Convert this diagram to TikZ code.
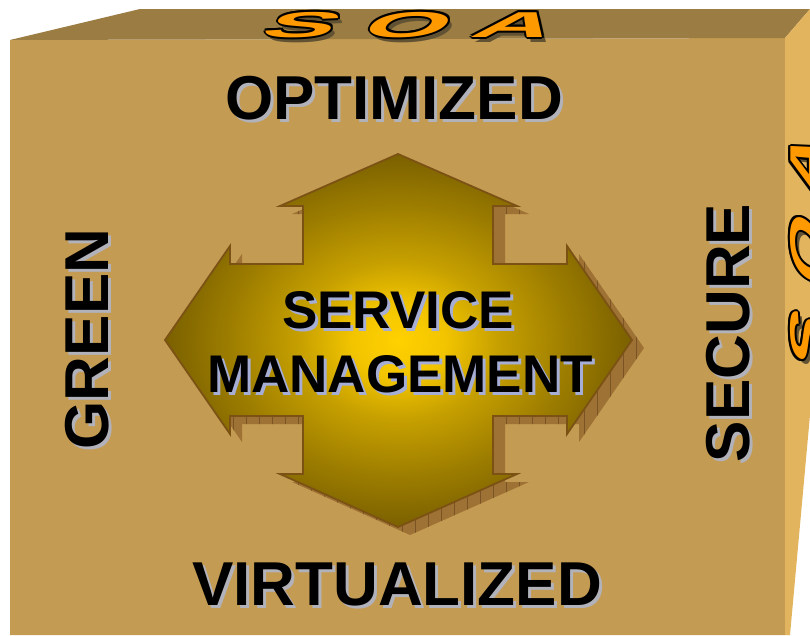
\documentclass[tikz,border=0pt]{standalone}
\usepackage{fontspec}
\setmainfont{Liberation Sans}
\usetikzlibrary{calc}

\definecolor{frontface}{RGB}{196,155,82}
\definecolor{topface}{RGB}{155,124,66}
\definecolor{rightface}{RGB}{226,180,94}
\definecolor{txtshadow}{RGB}{178,178,186}
\definecolor{smshadow}{RGB}{166,174,214}
\definecolor{arrowline}{RGB}{123,82,20}
\definecolor{arrowshadow}{RGB}{158,114,52}
\definecolor{gridline}{RGB}{122,84,36}
\definecolor{soaorange}{RGB}{255,153,0}
\definecolor{soashadow}{RGB}{96,82,50}

\pgfdeclareradialshading{ArrowGlow}{\pgfpoint{0bp}{0bp}}{rgb(0bp)=(1,0.82,0); rgb(5bp)=(0.95,0.77,0); rgb(10.5bp)=(0.78,0.63,0); rgb(18bp)=(0.62,0.494,0); rgb(25bp)=(0.478,0.376,0); rgb(50bp)=(0.478,0.376,0)}

\newcommand\ArrowPath{(398,154) -- (517,206) -- (493,206) -- (493,264) -- (567,264) -- (567,246) -- (632,340) -- (567,434) -- (567,416) -- (493,416) -- (493,474) -- (517,474) -- (398,527) -- (280,474) -- (303,474) -- (303,416) -- (230,416) -- (230,434) -- (165,340) -- (230,246) -- (230,264) -- (303,264) -- (303,206) -- (280,206) -- cycle}

\newcommand\SoaLetter[4]{%
  \node[soaletter, #3, text=soashadow] at ([shift={(4,5)}]#2) {#4};
  \foreach \a in {0,45,...,315} {\node[soaletter, #3, text=black] at ([shift={(\a:2)}]#2) {#4};}
  \node[soaletter, #3, text=soaorange] (#1) at (#2) {#4};
}

\tikzset{
  biglabel/.style={font=\bfseries\fontsize{62}{62}\selectfont, anchor=base, inner sep=0pt},
  smlabel/.style={font=\bfseries\fontsize{53}{53}\selectfont, anchor=base, inner sep=0pt},
  soaletter/.style={anchor=base, inner sep=0pt},
  soatop/.style={font=\bfseries\fontsize{36}{36}\selectfont, xslant=0.85, xscale=2.95},
  soaside/.style={font=\bfseries\fontsize{46}{46}\selectfont, rotate=90, xslant=0.7, xscale=1.8},
}

\begin{document}
\begin{tikzpicture}[x=1pt,y=-1pt]
\useasboundingbox (0,0) rectangle (810,635);
\clip (0,0) rectangle (810,635);
\fill[white] (0,0) rectangle (810,635);

% box faces
\fill[frontface] (10,40) -- (785,38) -- (785,635) -- (10,635) -- cycle;
\fill[topface] (10,40) -- (140,9) -- (810,9) -- (785,38) -- cycle;
\fill[rightface] (785,38) -- (810,9) -- (812,9) -- (812,393) -- (790,635) -- (785,635) -- cycle;

% SOA on top face
\SoaLetter{soaS}{293,37}{soatop}{S}
\SoaLetter{soaO}{399,37}{soatop}{O}
\SoaLetter{soaA}{507,37}{soatop}{A}

% SOA on right face
\SoaLetter{rsoaS}{822,352}{soaside}{S}
\SoaLetter{rsoaO}{822,260}{soaside}{O}
\SoaLetter{rsoaA}{822,176}{soaside}{A}

% arrow shadow with grid
\begin{scope}[shift={(12,8)}]
  \fill[arrowshadow] \ArrowPath;
  \clip \ArrowPath;
  \draw[gridline, line width=0.7pt, step=13] (140,130) grid (660,560);
\end{scope}

% arrow
\shade[shading=ArrowGlow] \ArrowPath;
\draw[arrowline, line width=1.8pt, line join=miter] \ArrowPath;

% labels
\node[biglabel, text=txtshadow] at (397,122) {OPTIMIZED};
\node[biglabel] (opt) at (394,119) {OPTIMIZED};
\node[biglabel, text=txtshadow] at (400,608) {VIRTUALIZED};
\node[biglabel] (virt) at (397,605) {VIRTUALIZED};
\node[biglabel, rotate=90, text=txtshadow] at (111,342) {GREEN};
\node[biglabel, rotate=90] (green) at (108,339) {GREEN};
\node[biglabel, rotate=90, text=txtshadow] at (752,336) {SECURE};
\node[biglabel, rotate=90] (secure) at (749,333) {SECURE};
\node[smlabel, text=smshadow] at (401,331) {SERVICE};
\node[smlabel] (svc) at (398,328) {SERVICE};
\node[smlabel, text=smshadow] at (403,395) {MANAGEMENT};
\node[smlabel] (mgmt) at (400,392) {MANAGEMENT};
\end{tikzpicture}
\end{document}
